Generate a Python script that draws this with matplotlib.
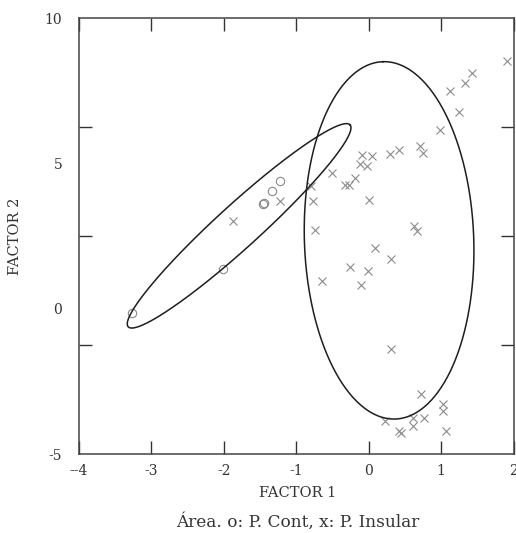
import numpy as np
import matplotlib
matplotlib.use("Agg")
import matplotlib.pyplot as plt

# ---- data ----
cont_x = [-3.27, -2.01, -1.46, -1.44, -1.33, -1.22]
cont_y = [-0.14, 1.38, 3.61, 3.64, 4.05, 4.39]

insular_x = [-1.88, -1.22,
             -0.10, 0.05, 0.29, 0.42, 0.71, 0.75, -0.12, -0.02, -0.51, -0.19,
             -0.33, -0.27, -0.80, -0.77, 0.00, -0.74, 0.62, 0.66, 0.08, 0.31,
             -0.26, -0.01, -0.64, -0.11,
             1.91, 1.43, 1.33, 1.12, 1.25, 0.98,
             0.30, 0.72, 1.02, 1.03, 0.22, 0.61, 0.76, 0.61, 0.42, 0.44, 1.06]
insular_y = [3.02, 3.72,
             5.29, 5.26, 5.32, 5.46, 5.61, 5.37, 4.99, 4.92, 4.66, 4.49,
             4.26, 4.26, 4.23, 3.70, 3.75, 2.71, 2.86, 2.68, 2.08, 1.70,
             1.42, 1.30, 0.96, 0.82,
             8.51, 8.10, 7.78, 7.48, 6.77, 6.15,
             -1.39, -2.94, -3.28, -3.52, -3.85, -3.77, -3.76, -4.04, -4.21, -4.27, -4.20]

# ellipses: center, conjugate semi-axis vectors (data units)
ell_cont_center = [-1.79, 2.85]
ell_cont_axis1 = [1.531, 3.474]
ell_cont_axis2 = [0.200, -0.546]

ell_ins_center = [0.28, 2.35]
ell_ins_axis1 = [-0.086, 6.147]
ell_ins_axis2 = [1.168, 0.10]

x_ticks = [-4, -3, -2, -1, 0, 1, 2]
x_ticklabels = ["--4", "-3", "-2", "-1", "0", "1", "2"]
y_ticks = [-5, 0, 5, 10]
y_ticklabels = ["-5", "0", "5", "10"]
y_minor = [-1.25, 2.5, 6.25]

FONT = "DejaVu Serif"
plt.rcParams["font.family"] = [FONT]

fig = plt.figure(figsize=(5.16, 5.33), dpi=100)
ax = fig.add_axes([79/516, 79/533, (513.7-79)/516, (454-18)/533])

gray = "#8a8a8a"
ax.plot(cont_x, cont_y, linestyle="none", marker="o", markersize=6,
        markerfacecolor="none", markeredgecolor=gray, markeredgewidth=0.8)
ax.plot(insular_x, insular_y, linestyle="none", marker="x", markersize=6,
        color=gray, markeredgewidth=0.8)

t = np.linspace(0, 2*np.pi, 400)
for c, a1, a2 in [(ell_cont_center, ell_cont_axis1, ell_cont_axis2),
                  (ell_ins_center, ell_ins_axis1, ell_ins_axis2)]:
    ex = c[0] + a1[0]*np.cos(t) + a2[0]*np.sin(t)
    ey = c[1] + a1[1]*np.cos(t) + a2[1]*np.sin(t)
    ax.plot(ex, ey, color="#1e1e1e", linewidth=1.1)

ax.set_xlim(-4, 2)
ax.set_ylim(-5, 10)

ax.set_xticks(x_ticks)
ax.set_xticklabels(x_ticklabels)
ax.set_yticks(y_ticks)
ax.set_yticklabels(y_ticklabels)
ax.set_yticks(y_minor, minor=True)

ax.tick_params(axis="x", which="major", direction="in", length=9.4, width=1.0,
               top=True, bottom=True, color="#333333", labelsize=10, pad=7)
ax.tick_params(axis="y", which="major", length=0, labelsize=10, pad=12)
ax.tick_params(axis="y", which="minor", direction="in", length=9.4, width=1.0,
               left=True, right=True, color="#333333")
for lab in ax.get_xticklabels() + ax.get_yticklabels():
    lab.set_color("#333333")

for s in ax.spines.values():
    s.set_color("#444444")
    s.set_linewidth(1.1)

fig.text(298/516, 1-493/533, "FACTOR 1", ha="center", va="center",
         fontsize=10.5, color="#333333")
fig.text(15/516, 1-236/533, "FACTOR 2", ha="center", va="center",
         rotation=90, fontsize=10.5, color="#333333")
fig.text(298/516, 1-521.5/533, "Área. o: P. Cont, x: P. Insular",
         ha="center", va="center", fontsize=12.2, color="#333333")

fig.savefig("out.png", dpi=100)
